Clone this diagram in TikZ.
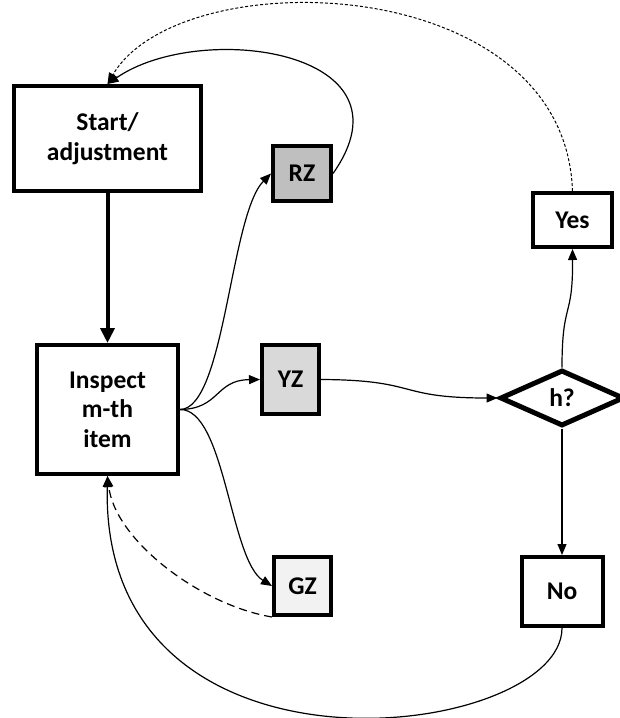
\documentclass[tikz,border=0pt]{standalone}
\usepackage{fontspec}
\setmainfont{Carlito}
\usetikzlibrary{arrows.meta,shapes.geometric}
\definecolor{rzfill}{HTML}{BFBFBF}
\definecolor{yzfill}{HTML}{D9D9D9}
\definecolor{gzfill}{HTML}{F2F2F2}
\begin{document}
\begin{tikzpicture}[x=1pt,y=-1pt,
  box/.style={draw,line width=4pt,rectangle,inner sep=0pt,align=center,
    font=\fontsize{25.5}{29.5}\selectfont\bfseries},
  conn/.style={line width=1.2pt,-{Triangle[length=11pt,width=9pt]}},
  mainarrow/.style={line width=4pt,-{Triangle[length=15pt,width=14pt]}},
  finedash/.style={dash pattern=on 3pt off 2pt,line width=1pt},
  longdash/.style={dash pattern=on 8pt off 5pt}
  ]
\useasboundingbox (0,0) rectangle (619,718);
\node[box,minimum width=187pt,minimum height=105pt] (start) at (107.5,138.5) {Start/\\adjustment};
\node[box,minimum width=141pt,minimum height=129pt] (inspect) at (107.5,409.5) {Inspect\\m-th\\item};
\node[box,fill=rzfill,minimum width=58pt,minimum height=55pt] (rz) at (302,173.5) {RZ};
\node[box,fill=yzfill,minimum width=57pt,minimum height=69pt] (yz) at (290.5,379.5) {YZ};
\node[box,fill=gzfill,minimum width=57pt,minimum height=58pt] (gz) at (302.5,586) {GZ};
\node[box,minimum width=79pt,minimum height=54pt] (yes) at (572.5,220) {Yes};
\node[box,minimum width=81pt,minimum height=69pt] (no) at (562,591.5) {No};
\node[box,shape=diamond,line width=5pt,minimum width=124pt,minimum height=56pt] (h) at (562,398) {h?};

\draw[mainarrow] (start) -- (inspect);
\draw[conn] (inspect.east) .. controls (225,409) and (230,215) .. (rz.west);
\draw[conn] (inspect.east) .. controls (220,409) and (215,380) .. (yz.west);
\draw[conn] (inspect.east) .. controls (225,409) and (230,560) .. (gz.west);
\draw[conn] (rz.east) .. controls (420,50) and (200,20) .. (start.north);
\draw[conn,finedash] (yes.north) .. controls (565,-30) and (180,-40) .. (start.north);
\draw[conn] (yz.east) .. controls (420,380) and (395,398) .. (h.west);
\draw[conn] (h.north) .. controls (562,300) and (573,320) .. (yes.south);
\draw[conn] (h.south) -- (no.north);
\draw[conn] (no.south) .. controls (562,740) and (100,800) .. (inspect.south);
\draw[conn,longdash] (gz.south west) .. controls (200,605) and (115,540) .. (inspect.south);
\end{tikzpicture}
\end{document}
